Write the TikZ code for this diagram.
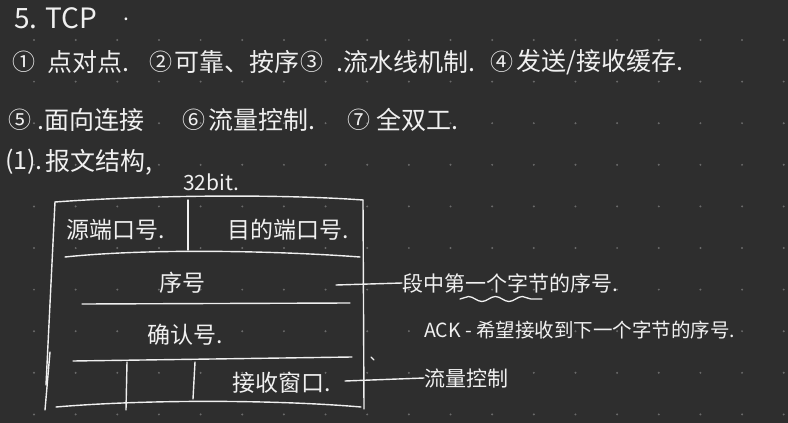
\documentclass[tikz,border=0pt]{standalone}
\usepackage{fontspec}
\setmainfont{Noto Sans CJK SC}
\usetikzlibrary{decorations.pathmorphing}
\definecolor{bg}{HTML}{2E2E2E}
\definecolor{ink}{HTML}{F0F0F0}
\definecolor{dotc}{HTML}{6A6A6A}
\tikzset{
  hw/.style={text=ink, inner sep=0pt, anchor=west},
  fbig/.style={font=\fontsize{25}{30}\selectfont},
  fnum/.style={font=\fontsize{23}{28}\selectfont},
  fbox/.style={font=\fontsize{23}{28}\selectfont},
  flab/.style={font=\fontsize{21}{26}\selectfont},
  pen/.style={draw=ink, line width=1.4pt, line cap=round, line join=round},
}
\begin{document}
\begin{tikzpicture}[x=1pt,y=-1pt]
\fill[bg] (0,0) rectangle (788,423);
\useasboundingbox (0,0) rectangle (788,423);
% dot grid
\foreach \i in {0,...,18}{
  \foreach \j in {0,...,9}{
    \fill[dotc] ({34+\i*41.65},{40+\j*41.6}) circle (1.1);
  }
}
% title
\node[hw, font=\fontsize{28}{32}\selectfont] (title) at (14,18) {5. TCP};
\node[hw, flab] (tdot) at (123,19) {.};
% line 2
\node[hw, fnum] (n1) at (12,62) {①};
\node[hw, fbig] (t1) at (47,62) {点对点.};
\node[hw, fnum] (n2) at (149,62) {②};
\node[hw, fbig] (t2) at (174,62) {可靠、按序};
\node[hw, fnum] (n3) at (300,62) {③};
\node[hw, fbig] (t3) at (336,62) {.流水线机制.};
\node[hw, fnum] (n4) at (490,62) {④};
\node[hw, fbig] (t4) at (516,62) {发送/接收缓存.};
% line 3
\node[hw, fnum] (n5) at (8,120) {⑤};
\node[hw, fbig] (t5) at (37,120) {.面向连接};
\node[hw, fnum] (n6) at (182,120) {⑥};
\node[hw, fbig] (t6) at (208,120) {流量控制.};
\node[hw, fnum] (n7) at (347,120) {⑦};
\node[hw, fbig] (t7) at (376,120) {全双工.};
% line 4
\node[hw, fbig] (s1) at (5,162) {(1).};
\node[hw, fbig] (s1t) at (45,162) {报文结构,};
\node[hw, font=\fontsize{21}{26}\selectfont] (bits) at (183,182) {32bit.};
% box
\coordinate (tl) at (55,202);
\coordinate (tr) at (363,200);
\coordinate (bl) at (56,407);
\coordinate (br) at (361,407);
\draw[pen] (tl) .. controls (150,195) and (280,194) .. (tr);
\draw[pen] (tl) -- (46,385);
\draw[pen] (50,352) -- (45,410);
\draw[pen] (tr) -- (364,409);
\draw[pen] (bl) .. controls (150,399) and (280,400) .. (br);
% row 1
\draw[pen] (188,200) -- (188,250);
\node[hw, fbox] (src) at (66,230) {源端口号.};
\node[hw, fbox] (dst) at (227,230) {目的端口号.};
\draw[pen] (65,257) .. controls (150,248) and (280,251) .. (360,257);
% row 2
\node[hw, fbox] (seq) at (159,283) {序号};
\draw[pen] (82,304) -- (350,303);
% row 3
\node[hw, fbox] (ack) at (147,335) {确认号.};
\draw[pen] (73,361) -- (352,357);
% row 4
\draw[pen] (127,362) -- (126,410);
\draw[pen] (195,362) -- (193,399);
\node[hw, fbox] (win) at (232,383) {接收窗口.};
\draw[pen] (371,357) -- (374,360);
% right labels
\node[hw, flab] (seqlab) at (402,283) {段中第一个字节的序号.};
\coordinate (seqs) at (336,285);
\draw[pen] (seqs) -- (seqlab.west);
\draw[draw=ink, line width=1.3pt, line cap=round, decorate,
  decoration={snake, amplitude=2.5pt, segment length=27pt}] (460,299) -- (542,299);
\node[hw, font=\fontsize{19.5}{24}\selectfont] (acklab) at (424,330) {ACK - 希望接收到下一个字节的序号.};
\node[hw, flab] (winlab) at (424,378) {流量控制};
\coordinate (wins) at (345,381);
\draw[pen] (wins) -- (winlab.west);
\end{tikzpicture}
\end{document}
